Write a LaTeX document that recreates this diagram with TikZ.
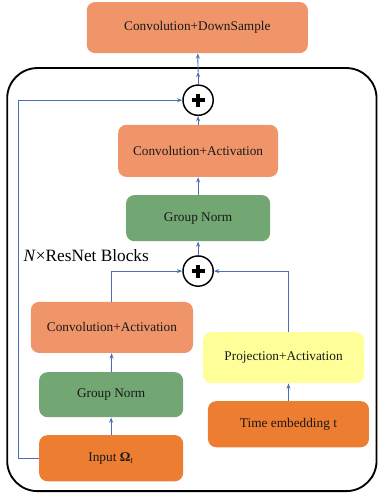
\documentclass[tikz,border=0pt]{standalone}
\usepackage{fontspec}
\setmainfont{Liberation Serif}
\usetikzlibrary{arrows.meta}

\definecolor{salmon}{HTML}{F0956A}
\definecolor{normgreen}{HTML}{72A672}
\definecolor{projyellow}{HTML}{FFFF99}
\definecolor{inorange}{HTML}{ED7D31}
\definecolor{linkblue}{HTML}{4A6FB5}

\tikzset{
  block/.style={rounded corners=0.22cm, text=black!90, font=\fontsize{10}{12}\selectfont, text centered},
  sumnode/.style={draw, circle, line width=1.1pt, minimum size=0.8cm, fill=white,
    path picture={\draw[line width=2.6pt] ([xshift=-0.17cm]path picture bounding box.center) -- ([xshift=0.17cm]path picture bounding box.center);
                  \draw[line width=2.6pt] ([yshift=-0.17cm]path picture bounding box.center) -- ([yshift=0.17cm]path picture bounding box.center);}},
  link/.style={draw=linkblue, line width=0.7pt, -{Stealth[length=4pt,width=3pt]}}
}

\begin{document}
\begin{tikzpicture}
    \useasboundingbox (0,0) rectangle (10,-13.04);

    % outer frame of the resnet blocks
    \draw [line width=1.4pt, rounded corners=0.8cm] (0.19,-1.8) rectangle (9.96,-12.99);
    \node (blocklabel) at (2.28,-6.75) {\fontsize{13}{15}\selectfont\textit{N}×ResNet Blocks};

    \node (downsample) [block, fill=salmon, minimum width=5.85cm, minimum height=1.35cm] at (5.22,-0.73) {Convolution+DownSample};

    \node (sumtop) [sumnode] at (5.24,-2.65) {};
    \node (convtop) [block, fill=salmon, minimum width=4.23cm, minimum height=1.38cm] at (5.24,-3.99) {Convolution+Activation};
    \node (normtop) [block, fill=normgreen, minimum width=3.81cm, minimum height=1.22cm] at (5.24,-5.77) {Group Norm};
    \node (summid) [sumnode] at (5.24,-7.17) {};

    \node (convlow) [block, fill=salmon, minimum width=4.29cm, minimum height=1.35cm] at (2.96,-8.66) {Convolution+Activation};
    \node (normlow) [block, fill=normgreen, minimum width=3.81cm, minimum height=1.19cm] at (2.94,-10.44) {Group Norm};
    \node (input) [block, fill=inorange, minimum width=3.81cm, minimum height=1.22cm] at (2.94,-12.12) {Input \textbf{Ω}\textsubscript{\textit{t}}};

    \node (projection) [block, fill=projyellow, minimum width=4.26cm, minimum height=1.35cm] at (7.5,-9.46) {Projection+Activation};
    \node (timeemb) [block, fill=inorange, minimum width=4.26cm, minimum height=1.22cm] at (7.63,-11.22) {Time embedding t};

    \coordinate (skip) at (0.48,-2.65);
    \coordinate (border) at (5.24,-1.9);

    \draw [link] (input) -- (normlow);
    \draw [link] (normlow) -- (convlow);
    \draw [link] (convlow.north) |- (summid.west);
    \draw [link] (timeemb.north) -- (timeemb.north |- projection.south);
    \draw [link] (projection.north -| timeemb.north) |- (summid.east);
    \draw [link] (summid) -- (normtop);
    \draw [link] (normtop) -- (convtop);
    \draw [link] (convtop) -- (sumtop);
    \draw [link] (input.west) -| (skip) -- (sumtop.west);
    \draw [link] (sumtop) -- (border);
    \draw [link] (border) -- (downsample);
\end{tikzpicture}
\end{document}
